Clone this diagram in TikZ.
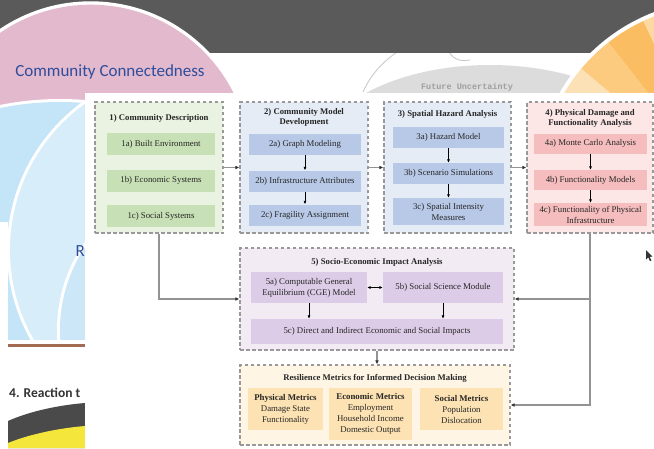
\documentclass[tikz,border=0pt]{standalone}
\usepackage{fontspec}
\setmainfont{Liberation Serif}
\newfontfamily\slidefont{Carlito}
\newfontfamily\stampfont{Liberation Mono}
\usetikzlibrary{arrows.meta}

\definecolor{bandgrey}{HTML}{5A5A5A}
\definecolor{connpink}{HTML}{E2B9CD}
\definecolor{connblue}{HTML}{2F4D9C}
\definecolor{venblue}{HTML}{C4E4F7}
\definecolor{venlight}{HTML}{D8EDFA}
\definecolor{domegrey}{HTML}{DCDCDC}
\definecolor{fanA}{HTML}{FDE1B6}
\definecolor{fanB}{HTML}{FCCB80}
\definecolor{fanC}{HTML}{FBBD62}
\definecolor{fanD}{HTML}{FDD8A0}
\definecolor{rustline}{HTML}{A36B52}
\definecolor{gaugedark}{HTML}{4A4A4A}
\definecolor{gaugeyellow}{HTML}{F4E63A}
\definecolor{descfill}{HTML}{EAF3E2}
\definecolor{descsub}{HTML}{C8E0B5}
\definecolor{modfill}{HTML}{E6ECF6}
\definecolor{modsub}{HTML}{B8C9E7}
\definecolor{dmgfill}{HTML}{FCE6E6}
\definecolor{dmgsub}{HTML}{F5BDBD}
\definecolor{sefill}{HTML}{F2EBF4}
\definecolor{sesub}{HTML}{DDCCE7}
\definecolor{metfill}{HTML}{FEF5E4}
\definecolor{metsub}{HTML}{FDE2B3}

\tikzset{
  stage/.style={draw=gray!80, line width=1.1pt, dash pattern=on 3.5pt off 2.5pt},
  stagehead/.style={align=center, text=black!85, font=\bfseries\fontsize{8.7}{10.5}\selectfont},
  part/.style={inner sep=1pt, align=center, text=black!85, font=\fontsize{8.8}{11}\selectfont},
  link/.style={draw=gray!85, line width=1.3pt, -{Latex[length=4pt,width=3.6pt,color=gray!40!black]}},
  inner/.style={line width=0.6pt, ->}
}

\begin{document}
\begin{tikzpicture}[x=1pt, y=-1pt, >={Latex[length=3.5pt,width=3pt]}]
  \clip (0,0) rectangle (654,448);
  \fill [white] (0,0) rectangle (654,448);

  % slides behind the figure
  \fill [domegrey] (490,160) ellipse [x radius=175, y radius=95];
  \draw [gray!45, line width=0.8pt] (363,92) .. controls (372,72) and (385,60) .. (400,50);
  \draw [gray!45, line width=0.8pt] (448,50) .. controls (452,58) and (458,62) .. (470,60);
  \node (uncert) at (467,87) {\stampfont\bfseries\fontsize{8.5}{10}\selectfont\color{gray!75}Future Uncertainty};
  \fill [bandgrey] (0,0) rectangle (654,53);

  \fill [white] (90.7,164.3) circle [radius=163];
  \fill [connpink] (90.7,164.3) circle [radius=159.6];
  \node (connect) at (110,72) {\slidefont\fontsize{17}{20}\selectfont\color{connblue}Community Connectedness};

  \begin{scope}
    \clip (0,0) rectangle (85,340);
    \fill [white] (60,400) circle [radius=301];
    \fill [venblue] (60,400) circle [radius=298];
    \fill [white] (190,250) circle [radius=183];
    \fill [venlight] (190,250) circle [radius=180];
    \fill [white] (210,330) circle [radius=153];
    \fill [venblue!60!venlight] (210,330) circle [radius=150];
  \end{scope}
  \node (rletter) [anchor=west] at (72,251) {\slidefont\fontsize{17}{20}\selectfont\color{connblue}R};
  \fill [white] (0,222) rectangle (8,448);
  \fill [white] (8,340) rectangle (85,448);
  \fill [rustline] (8,343.5) rectangle (85,346.5);
  \node (reaction) [anchor=west, inner sep=0pt] at (9,392.5) {\slidefont\bfseries\fontsize{13.5}{16}\selectfont\color{black!80}4. Reaction t};
  \fill [gaugedark] (8,421) .. controls (30,411) and (60,405) .. (85,403) -- (85,448) -- (8,448) -- cycle;
  \fill [gaugeyellow] (8,443) .. controls (30,434) and (60,428) .. (85,426) -- (85,448) -- (8,448) -- cycle;

  \fill [white] (720,185) circle [radius=185];
  \fill [fanA] (720,185) -- +(205:181) arc [start angle=205, end angle=220, radius=181] -- cycle;
  \fill [fanB] (720,185) -- +(220:181) arc [start angle=220, end angle=232, radius=181] -- cycle;
  \fill [fanC] (720,185) -- +(232:181) arc [start angle=232, end angle=245, radius=181] -- cycle;
  \fill [fanD] (720,185) -- +(245:181) arc [start angle=245, end angle=260, radius=181] -- cycle;

  % figure panel
  \fill [white] (85,93) rectangle (654,448);

  % 1) community description
  \node (desc) [stage, fill=descfill, minimum width=128pt, minimum height=131pt] at (159,167.5) {};
  \node (deschead) [stagehead] at (159,118) {1) Community Description};
  \node (built) [part, fill=descsub, minimum width=108pt, minimum height=22pt] at (161,144) {1a) Built Environment};
  \node (econ) [part, fill=descsub, minimum width=108pt, minimum height=22pt] at (161,180.5) {1b) Economic Systems};
  \node (socsys) [part, fill=descsub, minimum width=108pt, minimum height=22pt] at (161,216) {1c) Social Systems};

  % 2) community model
  \node (model) [stage, fill=modfill, minimum width=128pt, minimum height=131pt] at (304,167.5) {};
  \node (modelhead) [stagehead] at (304,117.5) {2) Community Model\\Development};
  \node (graph) [part, fill=modsub, minimum width=112pt, minimum height=21pt] at (305,144.5) {2a) Graph Modeling};
  \node (attr) [part, fill=modsub, minimum width=112pt, minimum height=21pt] at (305,181) {2b) Infrastructure Attributes};
  \node (fragil) [part, fill=modsub, minimum width=112pt, minimum height=21pt] at (305,215) {2c) Fragility Assignment};

  % 3) spatial hazard
  \node (hazard) [stage, fill=modfill, minimum width=127pt, minimum height=131pt] at (447.5,167.5) {};
  \node (hazardhead) [stagehead] at (447.5,114) {3) Spatial Hazard Analysis};
  \node (hzmodel) [part, fill=modsub, minimum width=111pt, minimum height=21pt] at (448.5,137.5) {3a) Hazard Model};
  \node (scen) [part, fill=modsub, minimum width=111pt, minimum height=21pt] at (448.5,173.5) {3b) Scenario Simulations};
  \node (intens) [part, fill=modsub, minimum width=111pt, minimum height=27pt] at (448.5,211.5) {3c) Spatial Intensity\\Measures};

  % 4) physical damage
  \node (damage) [stage, fill=dmgfill, minimum width=126pt, minimum height=131pt] at (590,167.5) {};
  \node (damagehead) [stagehead] at (590,118.5) {4) Physical Damage and\\Functionality Analysis};
  \node (monte) [part, fill=dmgsub, minimum width=113pt, minimum height=20pt] at (590.5,143.5) {4a) Monte Carlo Analysis};
  \node (funcmod) [part, fill=dmgsub, minimum width=113pt, minimum height=20pt] at (590.5,180) {4b) Functionality Models};
  \node (funcphys) [part, fill=dmgsub, minimum width=113pt, minimum height=23pt] at (590.5,214.5) {4c) Functionality of Physical\\Infrastructure};

  % 5) socio-economic impact
  \node (impact) [stage, fill=sefill, minimum width=274pt, minimum height=102pt] at (377,299) {};
  \node (impacthead) [stagehead] at (377,262) {5) Socio-Economic Impact Analysis};
  \node (cge) [part, fill=sesub, minimum width=116pt, minimum height=31pt] at (309,287.5) {5a) Computable General\\Equilibrium (CGE) Model};
  \node (scimod) [part, fill=sesub, minimum width=120pt, minimum height=31pt] at (443,287.5) {5b) Social Science Module};
  \node (direct) [part, fill=sesub, minimum width=252pt, minimum height=25pt] at (377,331.5) {5c) Direct and Indirect Economic and Social Impacts};

  % resilience metrics
  \node (metrics) [stage, fill=metfill, minimum width=270pt, minimum height=80pt] at (375,405) {};
  \node (metricshead) [stagehead] at (375,378) {Resilience Metrics for Informed Decision Making};
  \node (physm) [part, fill=metsub, minimum width=75pt, minimum height=42pt] at (285.5,409) {\textbf{Physical Metrics}\\Damage State\\Functionality};
  \node (econm) [part, fill=metsub, minimum width=83pt, minimum height=52pt] at (370.5,414) {\textbf{Economic Metrics}\\Employment\\Household Income\\Domestic Output};
  \node (socm) [part, fill=metsub, minimum width=83pt, minimum height=42pt] at (461.5,409) {\textbf{Social Metrics}\\Population\\Dislocation};

  % arrows inside the stages
  \draw [inner] (graph) -- (attr);
  \draw [inner] (attr) -- (fragil);
  \draw [inner] (hzmodel) -- (scen);
  \draw [inner] (scen) -- (intens);
  \draw [inner] (monte) -- (funcmod);
  \draw [inner] (funcmod) -- (funcphys);
  \draw [inner, <->] (cge) -- (scimod);
  \draw [inner] (cge.south) -- (cge.south |- direct.north);
  \draw [inner] (scimod.south) -- (scimod.south |- direct.north);

  % links between the stages
  \draw [link] (desc) -- (model);
  \draw [link] (model) -- (hazard);
  \draw [link] (hazard) -- (damage);
  \draw [link] (desc.south) |- (impact.west);
  \draw [link] (damage.south) |- (impact.east);
  \draw [link] (damage.south) |- (metrics.east);
  \draw [link] (impact.south) -- (impact.south |- metrics.north);

  % pointer
  \fill [black!80] (646,250) -- (646,259.5) -- (648.3,257.4) -- (650,261.2) -- (651.4,260.5) -- (649.7,256.8) -- (652.6,256.6) -- cycle;
\end{tikzpicture}
\end{document}
